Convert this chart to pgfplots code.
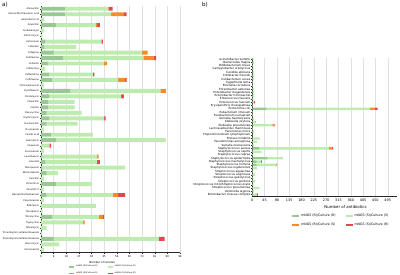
\documentclass[border=0pt]{standalone}
\usepackage{fontspec}
\setmainfont{DejaVu Sans}
\usepackage{pgfplots}
\usepackage{pgfplotstable}
\pgfplotsset{compat=1.18}
\definecolor{cRR}{HTML}{98C992}
\definecolor{cSS}{HTML}{BDEBB0}
\definecolor{cRS}{HTML}{F58C2A}
\definecolor{cSR}{HTML}{E5474F}

\pgfplotstableread{
y RR SS RS SR
0 17 31 0 3
1 17 33 9 2
2 0 2 0 0
3 11 28 1 2
4 0 2 0 0
5 0 1 0 0
6 3 40 0 1
7 2 23 0 0
8 9 63 4 0
9 16 57 7 2
10 5 40 2 0
11 0 3 0 0
12 6 31 0 1
13 8 47 5 1
14 0 2 0 0
15 21 64 4 0
16 6 51 0 2
17 5 19 0 0
18 5 19 0 0
19 4 25 0 0
20 6 39 0 1
21 4 22 0 0
22 0 2 0 0
23 7 30 0 0
24 11 78 0 0
25 0 6 0 1
26 0 2 0 0
27 1 39 1 0
28 3 37 0 2
29 1 59 0 0
30 4 8 0 0
31 0 2 0 0
32 11 25 0 0
33 0 2 0 0
34 4 47 4 5
35 0 2 0 0
36 0 39 0 0
37 0 1 0 0
38 8 33 3 1
39 0 30 1 0
40 0 4 0 0
41 0 1 0 0
42 9 75 0 4
43 0 13 0 0
44 0 2 0 0
}\lefttab

\pgfplotstableread{
y RR SS RS SR
0 0 4 0 0
1 0 7 0 0
2 0 4 0 0
3 0 4 0 0
4 0 7 0 0
5 0 8 0 0
6 0 6 0 0
7 0 2 0 0
8 0 2 0 0
9 0 7 0 0
10 0 7 0 0
11 0 7 0 0
12 0 4 0 0
13 0 6 0 4
14 0 2 0 0
15 52 378 19 9
16 0 2 0 0
17 0 2 0 0
18 0 6 0 0
19 0 9 3 0
20 3 70 4 5
21 0 2 0 0
22 0 6 0 0
23 0 1 0 0
24 0 28 0 0
25 0 18 0 0
26 0 6 0 0
27 26 254 10 5
28 0 34 0 0
29 0 2 0 0
30 56 57 0 0
31 16 16 0 3
32 16 72 0 3
33 0 18 0 0
34 0 2 0 0
35 0 10 0 0
36 0 4 0 0
37 0 10 0 0
38 0 5 0 0
39 0 26 0 0
40 0 6 0 0
41 0 16 0 4
}\righttab

\pgfplotsset{
  mybars/.style={
    xbar stacked, bar width=0.72,
    y dir=reverse, ymin=-0.5,
    scale only axis,
    axis x line*=bottom, axis y line*=left,
    axis line style={-, black!85, line width=0.35pt},
    tick align=outside, major tick length=1.2pt,
    tick style={black!85, line width=0.3pt},
    xmajorgrids, major x grid style={black!12, line width=0.3pt},
    ymajorgrids=false,
    /pgf/number format/assume math mode=true,
    legend cell align=left,
    legend image code/.code={\fill[##1] (0pt,-0.8pt) rectangle (5pt,0.8pt);},
  },
}

\begin{document}
\begin{tikzpicture}
\useasboundingbox (0pt,0pt) rectangle (400pt,274pt);
\node[anchor=north west, inner sep=0pt, font=\fontsize{5.5}{6}\selectfont] at (2pt,272pt) {a)};
\node[anchor=north west, inner sep=0pt, font=\fontsize{5.5}{6}\selectfont] at (202pt,272pt) {b)};

\begin{axis}[
  mybars,
  at={(41pt,21.5pt)}, anchor=south west,
  width=139pt, height=246.5pt,
  xmin=0, xmax=99, xtick={0,9,...,99},
  ymax=44.5, ytick={0,...,44},
  yticklabels={{Amoxicillin},{Amoxicillin/Clavulanic acid},{Amphotericin B},{Ampicillin},{Anidulafungin},{Azithromycin},{Aztreonam},{Cefazolin},{Cefepime},{Cefotaxime},{Cefoxitin},{Ceftaroline},{Ceftazidime},{Ceftriaxone},{Chloramphenicol},{Ciprofloxacin},{Clindamycin},{Cloxacillin},{Colistin},{Doxycycline},{Erythromycin},{Flucloxacillin},{Fluconazole},{Fusidic acid},{Gentamicin},{Imipenem},{Itraconazole},{Levofloxacin},{Linezolid},{Meropenem},{Metronidazole},{Oxacillin},{Penicillin G},{Penicillin V},{Piperacillin/Tazobactam},{Posaconazole},{Rifampicin},{Teicoplanin},{Tetracycline},{Tigecycline},{Tobramycin},{Trimethoprim sulfamethoxazole},{Trimethoprim/sulfamethoxazole},{Vancomycin},{Voriconazole}},
  yticklabel style={font=\fontsize{2.3}{2.6}\selectfont, inner sep=0.6pt},
  xticklabel style={font=\fontsize{2.6}{3}\selectfont, inner sep=0.6pt, yshift=-1pt},
  xlabel={Number of isolates},
  xlabel style={font=\fontsize{2.7}{3}\selectfont, inner sep=0pt, anchor=center, at={(axis description cs:0.44,0)}, yshift=-9.5pt},
  legend columns=2,
  legend style={draw=none, fill=none, font=\fontsize{2}{2.4}\selectfont,
    at={(axis description cs:0.45,0)}, anchor=north, yshift=-10.5pt,
    inner sep=0pt, row sep=-0.3pt,
    /tikz/every even column/.append style={column sep=8pt}},
]
\addplot[fill=cRR, draw=none] table[x=RR, y=y] {\lefttab};
\addlegendentry{mNGS (R)/Culture (R)}
\addplot[fill=cSS, draw=none] table[x=SS, y=y] {\lefttab};
\addlegendentry{mNGS (S)/Culture (S)}
\addplot[fill=cRS, draw=none] table[x=RS, y=y] {\lefttab};
\addlegendentry{mNGS (R)/Culture (S)}
\addplot[fill=cSR, draw=none] table[x=SR, y=y] {\lefttab};
\addlegendentry{mNGS (S)/Culture (R)}
\end{axis}

\begin{axis}[
  mybars,
  at={(252.3pt,77.75pt)}, anchor=south west,
  width=145pt, height=138.6pt,
  xmin=0, xmax=530, xtick={0,45,...,495},
  ymax=41.5, ytick={0,...,41},
  yticklabels={{Acinetobacter seifertii},{Bacteroides fragilis},{Bifidobacterium breve},{Campylobacter ureolyticus},{Candida albicans},{Citrobacter freundii},{Cutibacterium acnes},{Eggerthella lenta},{Eikenella corrodens},{Enterobacter asburiae},{Enterobacter bugandensis},{Enterobacter hormaechei},{Enterococcus faecalis},{Enterococcus faecium},{Erysipelothrix rhusiopathiae},{Escherichia coli},{Eubacterium limosum},{Fusobacterium nucleatum},{Gemella haemolysans},{Klebsiella oxytoca},{Klebsiella pneumoniae},{Lacticaseibacillus rhamnosus},{Parvimonas micra},{Propionimicrobium lymphophilum},{Proteus mirabilis},{Pseudomonas aeruginosa},{Serratia marcescens},{Staphylococcus aureus},{Staphylococcus capitis},{Staphylococcus caprae},{Staphylococcus epidermidis},{Staphylococcus haemolyticus},{Staphylococcus hominis},{Staphylococcus lugdunensis},{Streptococcus agalactiae},{Streptococcus anginosus},{Streptococcus gallolyticus},{Streptococcus gordonii},{Streptococcus mitis/Streptococcus oralis},{Streptococcus pneumoniae},{Veillonella atypica},{Enterobacter cloacae complex}},
  yticklabel style={font=\fontsize{2.8}{3}\selectfont, inner sep=0.6pt},
  xticklabel style={font=\fontsize{3.4}{3.8}\selectfont, inner sep=0.6pt, yshift=-1pt},
  xlabel={Number of antibiotics},
  xlabel style={font=\fontsize{3.9}{4.3}\selectfont, inner sep=0pt, anchor=center, at={(axis description cs:0.643,0)}, yshift=-11pt},
  legend columns=2,
  legend style={draw=none, fill=none, font=\fontsize{3.2}{3.6}\selectfont,
    at={(axis description cs:0.615,0)}, anchor=north, yshift=-16pt,
    inner sep=0pt, row sep=0.5pt,
    /tikz/every even column/.append style={column sep=8pt}},
  legend image code/.code={\fill[#1] (0pt,-1pt) rectangle (7pt,1pt);},
]
\addplot[fill=cRR, draw=none] table[x=RR, y=y] {\righttab};
\addlegendentry{mNGS (R)/Culture (R)}
\addplot[fill=cSS, draw=none] table[x=SS, y=y] {\righttab};
\addlegendentry{mNGS (S)/Culture (S)}
\addplot[fill=cRS, draw=none] table[x=RS, y=y] {\righttab};
\addlegendentry{mNGS (R)/Culture (S)}
\addplot[fill=cSR, draw=none] table[x=SR, y=y] {\righttab};
\addlegendentry{mNGS (S)/Culture (R)}
\end{axis}
\end{tikzpicture}
\end{document}
